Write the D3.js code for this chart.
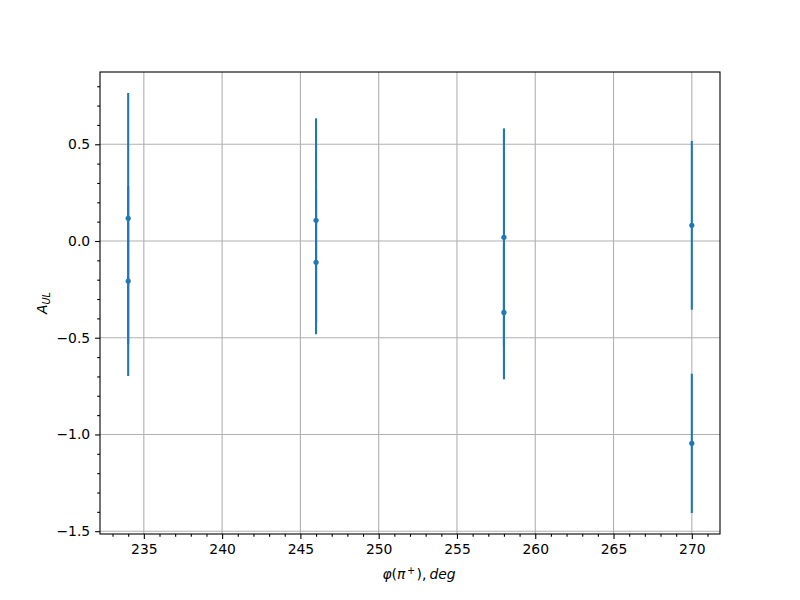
<!DOCTYPE html>
<html><head><meta charset="utf-8">
<script src="https://cdn.jsdelivr.net/npm/d3@7"></script>
<style>body{margin:0;background:#fff}svg{display:block}text{font-family:"DejaVu Sans",sans-serif}</style>
</head><body>
<svg id="c" width="800" height="600"></svg>
<script>
const phi = [234, 246, 258, 270];
const seriesA = [0.117, 0.107, 0.019, 0.081];
const errA = [0.648, 0.527, 0.563, 0.436];
const seriesB = [-0.207, -0.110, -0.369, -1.046];
const errB = [0.491, 0.372, 0.346, 0.360];
const xTicks = [235, 240, 245, 250, 255, 260, 265, 270];
const yTicks = [0.5, 0.0, -0.5, -1.0, -1.5];

const W = 800, H = 600, L = 100, R = 720, T = 72, B = 534;
const svg = d3.select("#c");
const pts = [];
phi.forEach((p, i) => {
  pts.push({x: p, y: seriesA[i], e: errA[i]});
  pts.push({x: p, y: seriesB[i], e: errB[i]});
});
const xmin = d3.min(phi), xmax = d3.max(phi), xp = (xmax - xmin) * 0.05;
const ylo = d3.min(pts, d => d.y - d.e), yhi = d3.max(pts, d => d.y + d.e), yp = (yhi - ylo) * 0.05;
const x = d3.scaleLinear().domain([xmin - xp, xmax + xp]).range([L, R]);
const y = d3.scaleLinear().domain([ylo - yp, yhi + yp]).range([B, T]);

// grid
const g = svg.append("g");
g.selectAll("line.gx").data(xTicks).join("line")
  .attr("x1", d => x(d)).attr("x2", d => x(d)).attr("y1", T).attr("y2", B)
  .attr("stroke", "#b0b0b0").attr("stroke-width", 1.1);
g.selectAll("line.gy").data(yTicks).join("line")
  .attr("y1", d => y(d)).attr("y2", d => y(d)).attr("x1", L).attr("x2", R)
  .attr("stroke", "#b0b0b0").attr("stroke-width", 1.1);

// data
const c = "#1f77b4";
svg.append("g").selectAll("line").data(pts).join("line")
  .attr("x1", d => x(d.x)).attr("x2", d => x(d.x))
  .attr("y1", d => y(d.y + d.e)).attr("y2", d => y(d.y - d.e))
  .attr("stroke", c).attr("stroke-width", 2.1);
svg.append("g").selectAll("circle").data(pts).join("circle")
  .attr("cx", d => x(d.x)).attr("cy", d => y(d.y)).attr("r", 2.6).attr("fill", c);

// axes
const fmtY = d => d3.format(".1f")(d).replace("-", "\u2212");
const xAxis = d3.axisBottom(x).tickValues(xTicks).tickSize(4.9).tickPadding(4.9).tickFormat(d3.format("d"));
const xMinor = d3.axisBottom(x).tickValues(d3.range(233, 272, 1).filter(v => v % 5 !== 0)).tickSize(2.8).tickFormat("");
const yAxis = d3.axisLeft(y).tickValues(yTicks).tickSize(4.9).tickPadding(4.9).tickFormat(fmtY);
const yMinorVals = d3.range(-15, 9, 1).map(v => v / 10).filter(v => Math.abs(v * 10) % 5 !== 0);
const yMinor = d3.axisLeft(y).tickValues(yMinorVals).tickSize(2.8).tickFormat("");
function style(sel) {
  sel.select(".domain").remove();
  sel.selectAll("line").attr("stroke", "#000").attr("stroke-width", 1.1);
  sel.selectAll("text").attr("fill", "#000").style("font-size", "13.9px").style("font-family", "DejaVu Sans");
}
svg.append("g").attr("transform", `translate(0,${B})`).call(xAxis).call(style);
svg.append("g").attr("transform", `translate(0,${B})`).call(xMinor).call(style);
svg.append("g").attr("transform", `translate(${L},0)`).call(yAxis).call(style);
svg.append("g").attr("transform", `translate(${L},0)`).call(yMinor).call(style);

svg.append("rect").attr("x", L).attr("y", T).attr("width", R - L).attr("height", B - T)
  .attr("fill", "none").attr("stroke", "#000").attr("stroke-width", 1.1);

// labels
const xl = svg.append("text").attr("x", (L + R) / 2 + 9).attr("y", 579).attr("text-anchor", "middle")
  .style("font-size", "13.9px");
xl.append("tspan").style("font-style", "italic").text("φ");
xl.append("tspan").text("(");
xl.append("tspan").style("font-style", "italic").text("π");
xl.append("tspan").attr("dx", 1.5).attr("dy", -5).style("font-size", "9.7px").text("+");
xl.append("tspan").attr("dx", 1.5).attr("dy", 5).text("),");
xl.append("tspan").attr("dx", 3).style("font-style", "italic").text("deg");

const yl = svg.append("text").attr("transform", `translate(47,${(T + B) / 2}) rotate(-90)`)
  .attr("text-anchor", "middle").style("font-size", "13.9px").style("font-style", "italic");
yl.append("tspan").text("A");
yl.append("tspan").attr("dy", 3).style("font-size", "9.7px").text("UL");
</script>
</body></html>
